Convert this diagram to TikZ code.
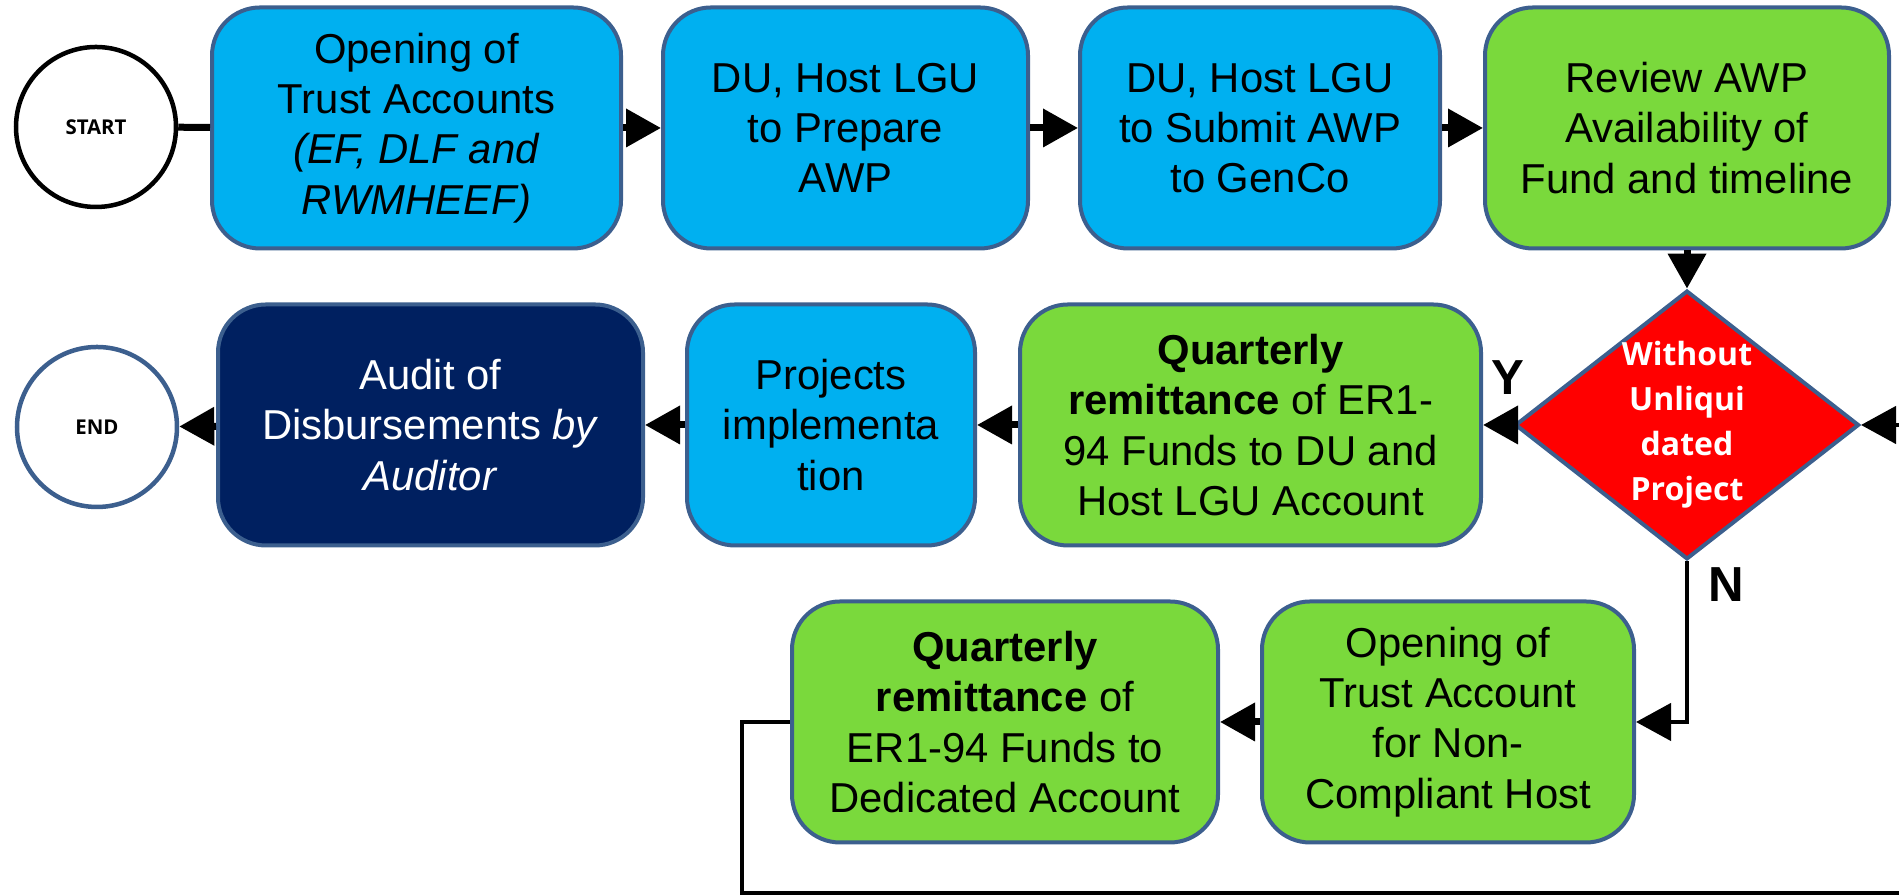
\documentclass[tikz,border=0pt]{standalone}
\usepackage{fontspec}
\setmainfont{Liberation Sans}
\newfontfamily\opensans{Open Sans}
\usetikzlibrary{arrows.meta,shapes.geometric}

\definecolor{skyfill}{HTML}{00B0F0}
\definecolor{leaffill}{HTML}{7AD93C}
\definecolor{navyfill}{HTML}{002060}
\definecolor{rimblue}{HTML}{3C5F8E}

\begin{document}
\begin{tikzpicture}
[every node/.style={font=\fontsize{11.9}{14.3}\selectfont, align=center},
 stepbox/.style={rectangle, rounded corners=0.48cm, draw=rimblue,
   line width=0.04cm, minimum height=2.41cm, inner sep=2pt},
 bluebox/.style={stepbox, fill=skyfill},
 greenbox/.style={stepbox, fill=leaffill},
 navybox/.style={stepbox, fill=navyfill, text=white},
 terminal/.style={circle, minimum size=1.6cm, line width=0.045cm, fill=white,
   font=\opensans\bfseries\fontsize{5.8}{7}\selectfont},
 decision/.style={diamond, shape aspect=1.28, fill=red, draw=rimblue,
   line width=0.04cm, minimum width=3.38cm, minimum height=2.64cm,
   inner sep=0pt, text=white,
   font=\opensans\bfseries\fontsize{9.1}{12.8}\selectfont},
 branch/.style={font=\bfseries\fontsize{14}{16}\selectfont},
 tip/.style={-{Triangle[length=0.35cm,width=0.37cm]}},
 flow/.style={tip, line width=0.07cm},
 link/.style={line width=0.045cm}]

\useasboundingbox (0,0) rectangle (18.99,8.96);
\clip (0,0) rectangle (18.99,8.96);

% top row
\node [terminal, draw=black] (start) at (0.96,7.69) {START};
\node [bluebox, minimum width=4.09cm] (accounts) at (4.165,7.68)
  {Opening of\\Trust Accounts\\\textit{(EF, DLF and}\\\textit{RWMHEEF)}};
\node [bluebox, minimum width=3.65cm] (prepare) at (8.455,7.68)
  {DU, Host LGU\\to Prepare\\AWP};
\node [bluebox, minimum width=3.60cm] (submit) at (12.60,7.68)
  {DU, Host LGU\\to Submit AWP\\to GenCo};
\node [greenbox, minimum width=4.04cm] (review) at (16.87,7.68)
  {Review AWP\\Availability of\\Fund and timeline};

% middle row
\node [decision] (decide) at (16.87,4.71) {Without\\Unliqui\\dated\\Project};
\node [greenbox, minimum width=4.61cm] (remitlgu) at (12.505,4.71)
  {\textbf{Quarterly}\\\textbf{remittance} of ER1-\\94 Funds to DU and\\Host LGU Account};
\node [bluebox, minimum width=2.88cm] (implement) at (8.31,4.71)
  {Projects\\implementa\\tion};
\node [navybox, minimum width=4.25cm] (audit) at (4.305,4.71)
  {Audit of\\Disbursements \textit{by}\\\textit{Auditor}};
\node [terminal, draw=rimblue] (finish) at (0.97,4.69) {END};

% bottom row
\node [greenbox, minimum width=3.72cm] (noncomp) at (14.48,1.74)
  {Opening of\\Trust Account\\for Non-\\Compliant Host};
\node [greenbox, minimum width=4.26cm] (remitded) at (10.05,1.74)
  {\textbf{Quarterly}\\\textbf{remittance} of\\ER1-94 Funds to\\Dedicated Account};

\node [branch] (yes) at (15.08,5.18) {Y};
\node [branch] (no) at (17.26,3.11) {N};
\coordinate (offright) at (19.40,0.03);

% connectors
\draw [line width=0.07cm] (start) -- (accounts);
\draw [flow] (accounts) -- (prepare);
\draw [flow] (prepare) -- (submit);
\draw [flow] (submit) -- (review);
\draw [flow] (review) -- (decide);
\draw [flow] (decide) -- (remitlgu);
\draw [flow] (remitlgu) -- (implement);
\draw [flow] (implement) -- (audit);
\draw [flow] (audit) -- (finish);
\draw [link, tip] (decide.south) |- (noncomp.east);
\draw [flow] (noncomp) -- (remitded);
\draw [link, tip] (remitded.west) -- ++(-0.48,0) |- (offright) |- (decide.east);
\end{tikzpicture}
\end{document}
